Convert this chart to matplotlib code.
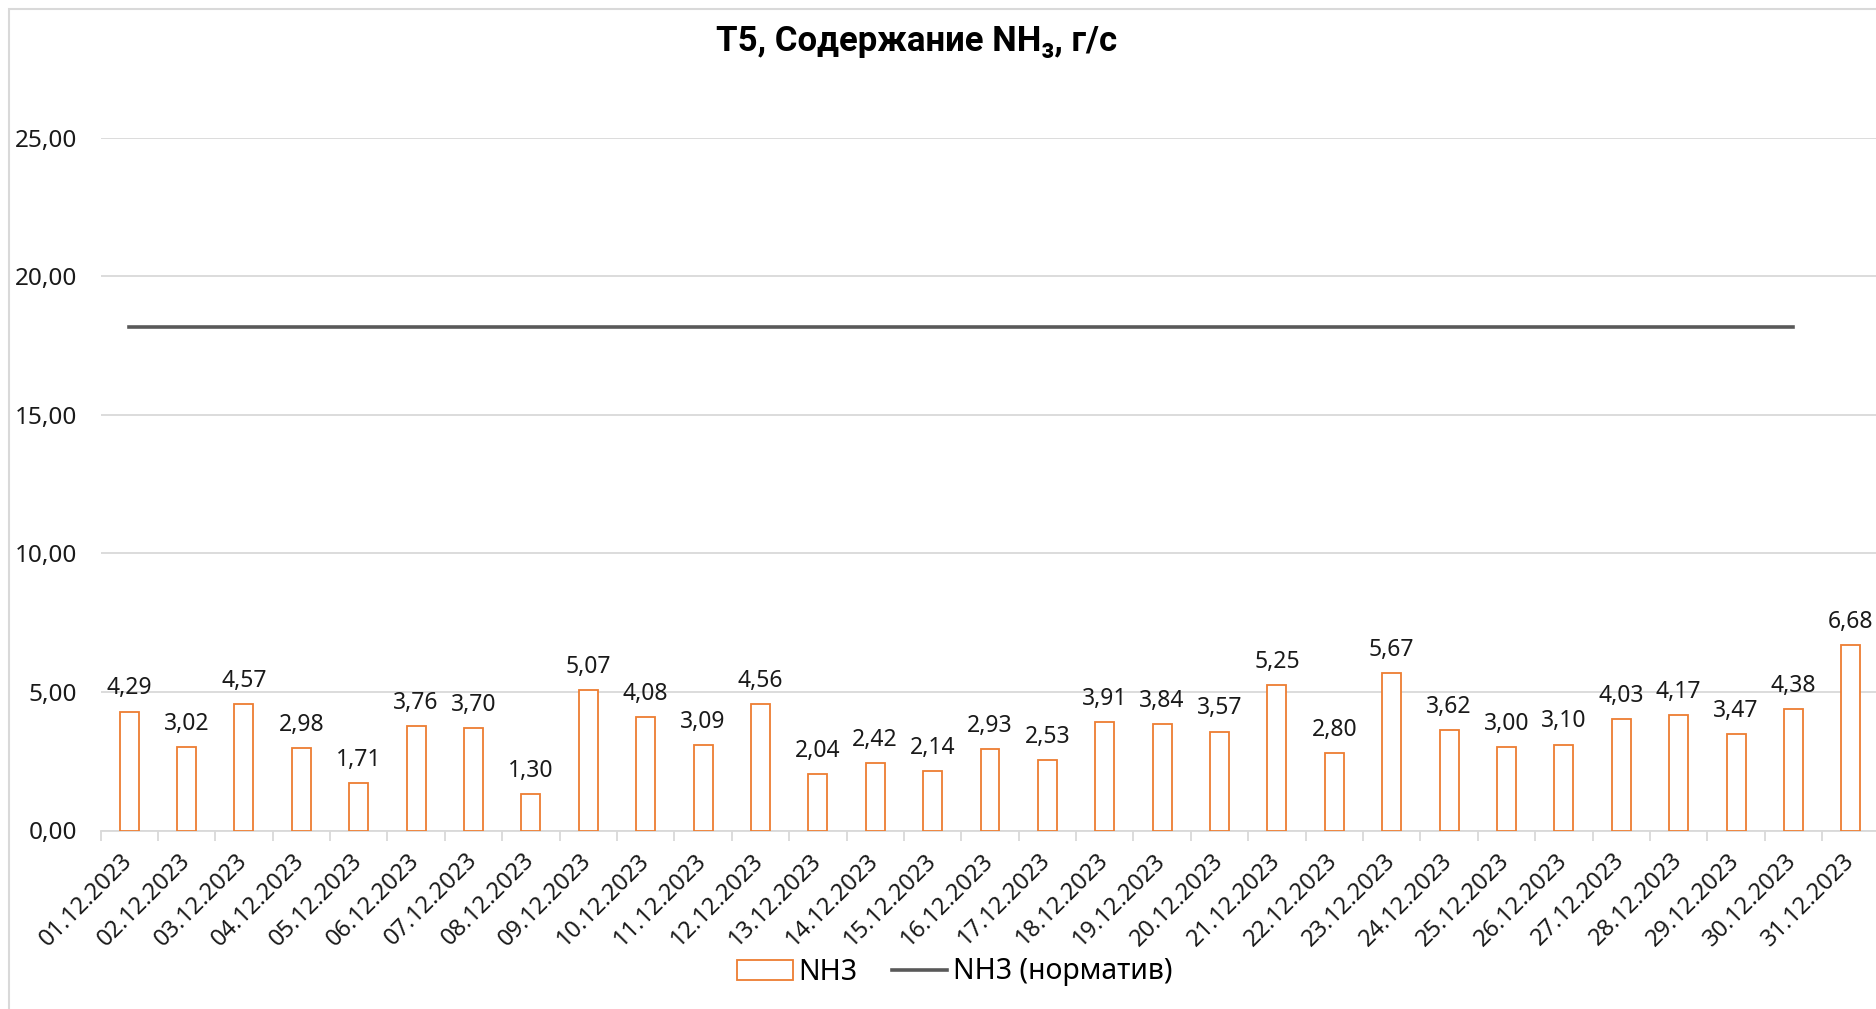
import numpy as np
import matplotlib.pyplot as plt
from matplotlib.patches import Rectangle, Patch
from matplotlib.lines import Line2D

plt.rcParams["font.family"] = ["Noto Sans", "DejaVu Sans"]

days = [f"{d:02d}.12.2023" for d in range(1, 32)]
nh3 = [4.29, 3.02, 4.57, 2.98, 1.71, 3.76, 3.70, 1.30, 5.07, 4.08,
       3.09, 4.56, 2.04, 2.42, 2.14, 2.93, 2.53, 3.91, 3.84, 3.57,
       5.25, 2.80, 5.67, 3.62, 3.00, 3.10, 4.03, 4.17, 3.47, 4.38, 6.68]
norm = [18.18] * 30  # норматив есть только до 30.12
yticks = [0, 5, 10, 15, 20, 25]

W, H = 1876, 1009
fig = plt.figure(figsize=(W / 100, H / 100), dpi=100)

# рамка области диаграммы (справа и снизу обрезана)
fig.patches.append(Rectangle((9 / W, -0.1), 1.2, 1 - 9 / H + 0.1,
                             transform=fig.transFigure, fill=False,
                             edgecolor="#D9D9D9", lw=1.5))

x0, x1 = 100.5 / W, 1879.5 / W
y0, y1 = 1 - 830.5 / H, 1 - 137.5 / H
ax = fig.add_axes([x0, y0, x1 - x0, y1 - y0])

x = np.arange(len(days))
ax.bar(x, nh3, width=0.33, facecolor="white", edgecolor="#ED7D31", lw=1.3, zorder=3)
ax.plot(np.arange(len(norm)), norm, color="#595959", lw=2.6, zorder=3)

for xi, v in zip(x, nh3):
    ax.annotate(f"{v:.2f}".replace(".", ","), (xi, v), xytext=(0, 8),
                textcoords="offset points", ha="center", va="bottom", fontsize=16.5,
                color="#1a1a1a")

ax.set_xlim(-0.5, len(days) - 0.5)
ax.set_ylim(0, 25)
ax.set_yticks(yticks)
ax.set_yticklabels([f"{t:.2f}".replace(".", ",") for t in yticks], fontsize=17.5,
                   color="#1a1a1a")
ax.yaxis.grid(True, color="#D9D9D9", lw=1.3, zorder=0)
ax.tick_params(axis="y", length=0, pad=17)

ax.set_xticks(x)
ax.set_xticklabels(days, rotation=45, ha="right", va="center",
                   rotation_mode="anchor", fontsize=17, color="#1a1a1a")
ax.set_xticks(np.arange(len(days) + 1) - 0.5, minor=True)
ax.tick_params(axis="x", which="major", length=0, pad=19)
ax.tick_params(axis="x", which="minor", length=7, color="#D9D9D9", width=1.3)

for s in ["top", "right", "left"]:
    ax.spines[s].set_visible(False)
ax.spines["bottom"].set_color("#D9D9D9")
ax.spines["bottom"].set_linewidth(1.3)
ax.set_axisbelow(True)

fig.text(917 / W, 1 - 42 / H, "T5, Содержание NH₃, г/с", ha="center", va="center",
         fontsize=25, fontweight="bold", color="black",
         family=["Roboto", "DejaVu Sans"])

handles = [Patch(facecolor="white", edgecolor="#ED7D31", lw=1.3),
           Line2D([0], [0], color="#595959", lw=2.6)]
fig.legend(handles, ["NH3", "NH3 (норматив)"], loc="center",
           bbox_to_anchor=(955 / W, 1 - 972 / H), ncol=2, frameon=False,
           fontsize=20.5, handlelength=1.95, handletextpad=0.2, columnspacing=1.2)

fig.savefig("out.png", dpi=100)
